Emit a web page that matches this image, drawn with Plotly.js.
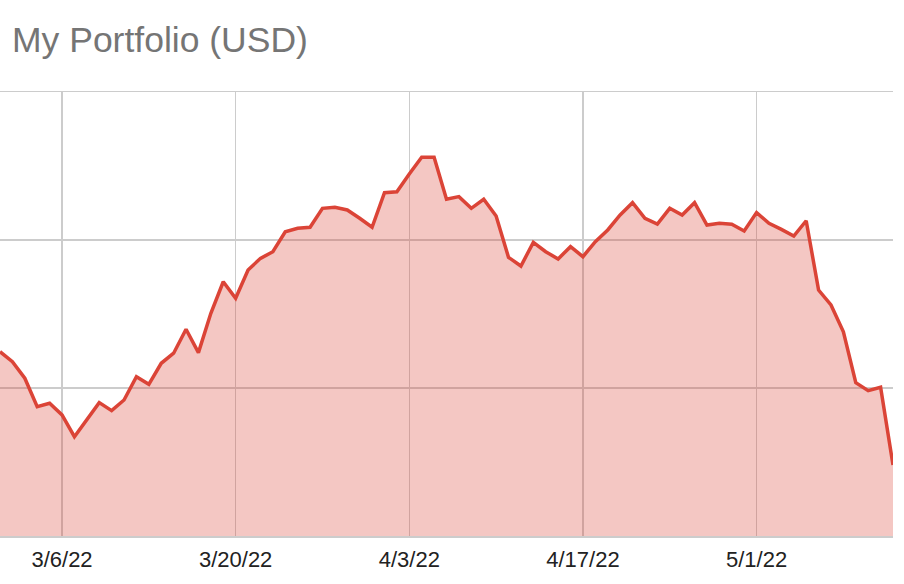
<!DOCTYPE html>
<html>
<head>
<meta charset="utf-8">
<script src="https://cdn.plot.ly/plotly-3.0.1.min.js"></script>
<style>
  body { margin: 0; background: #fff; }
  #plot { width: 904px; height: 584px; }
</style>
</head>
<body>
<div id="plot"></div>
<script>
// daily values, 3/1/22 .. 5/12/22
const startDate = "2022-03-01";
const values = [
  52450, 51780, 50660, 48740, 48970, 48180, 46710, 47840, 49010, 48470,
  49190, 50760, 50250, 51670, 52350, 53970, 52390, 55050, 57180, 56060,
  57970, 58760, 59210, 60560, 60790, 60860, 62140, 62210, 62030, 61470,
  60860, 63200, 63260, 64460, 65590, 65590, 62750, 62930, 62140, 62750,
  61620, 58830, 58240, 59840, 59210, 58720, 59550, 58870, 59890, 60680,
  61690, 62520, 61470, 61080, 62140, 61690, 62520, 61010, 61130, 61060,
  60610, 61850, 61130, 60720, 60270, 61300, 56620, 55610, 53800, 50360,
  49820, 50050, 44800
];

function makeDates(start, n) {
  let out = [];
  let d = new Date(start + "T00:00:00Z");
  for (let i = 0; i < n; i++) {
    out.push(d.toISOString().slice(0, 10));
    d.setUTCDate(d.getUTCDate() + 1);
  }
  return out;
}

const dates = makeDates(startDate, values.length);

var trace1 = {
  x: dates,
  y: values,
  type: "scatter",
  mode: "lines",
  fill: "tozeroy",
  fillcolor: "rgba(219,68,55,0.3)",
  line: { color: "#db4437", width: 3.5 },
  hoverinfo: "x+y"
};

var layout = {
  width: 904,
  height: 584,
  margin: { l: 0, r: 11, t: 92, b: 48 },
  paper_bgcolor: "#ffffff",
  plot_bgcolor: "#ffffff",
  showlegend: false,
  title: {
    text: "My Portfolio (USD)",
    font: { family: "Liberation Sans, Arial, sans-serif", size: 35.5, color: "#757575" },
    xref: "container",
    yref: "container",
    x: 0.0133,
    xanchor: "left",
    y: 0.932,
    yanchor: "middle"
  },
  xaxis: {
    type: "date",
    range: [dates[0], dates[dates.length - 1]],
    tick0: "2022-03-06",
    dtick: 14 * 86400000,
    tickformat: "%-m/%-d/%y",
    showgrid: true,
    gridcolor: "#cccccc",
    gridwidth: 1.5,
    zeroline: false,
    showline: true,
    mirror: true,
    linecolor: "#cccccc",
    linewidth: 1.5,
    ticks: "",
    ticklen: 0,
    ticklabelstandoff: 3,
    tickfont: { family: "Liberation Sans, Arial, sans-serif", size: 22, color: "#222222" }
  },
  yaxis: {
    range: [40000, 70000],
    dtick: 10000,
    showgrid: true,
    gridcolor: "#cccccc",
    gridwidth: 1.5,
    zeroline: false,
    showline: false,
    showticklabels: false,
    ticks: ""
  }
};

Plotly.newPlot("plot", [trace1], layout, { displayModeBar: false, staticPlot: true });
</script>
</body>
</html>
